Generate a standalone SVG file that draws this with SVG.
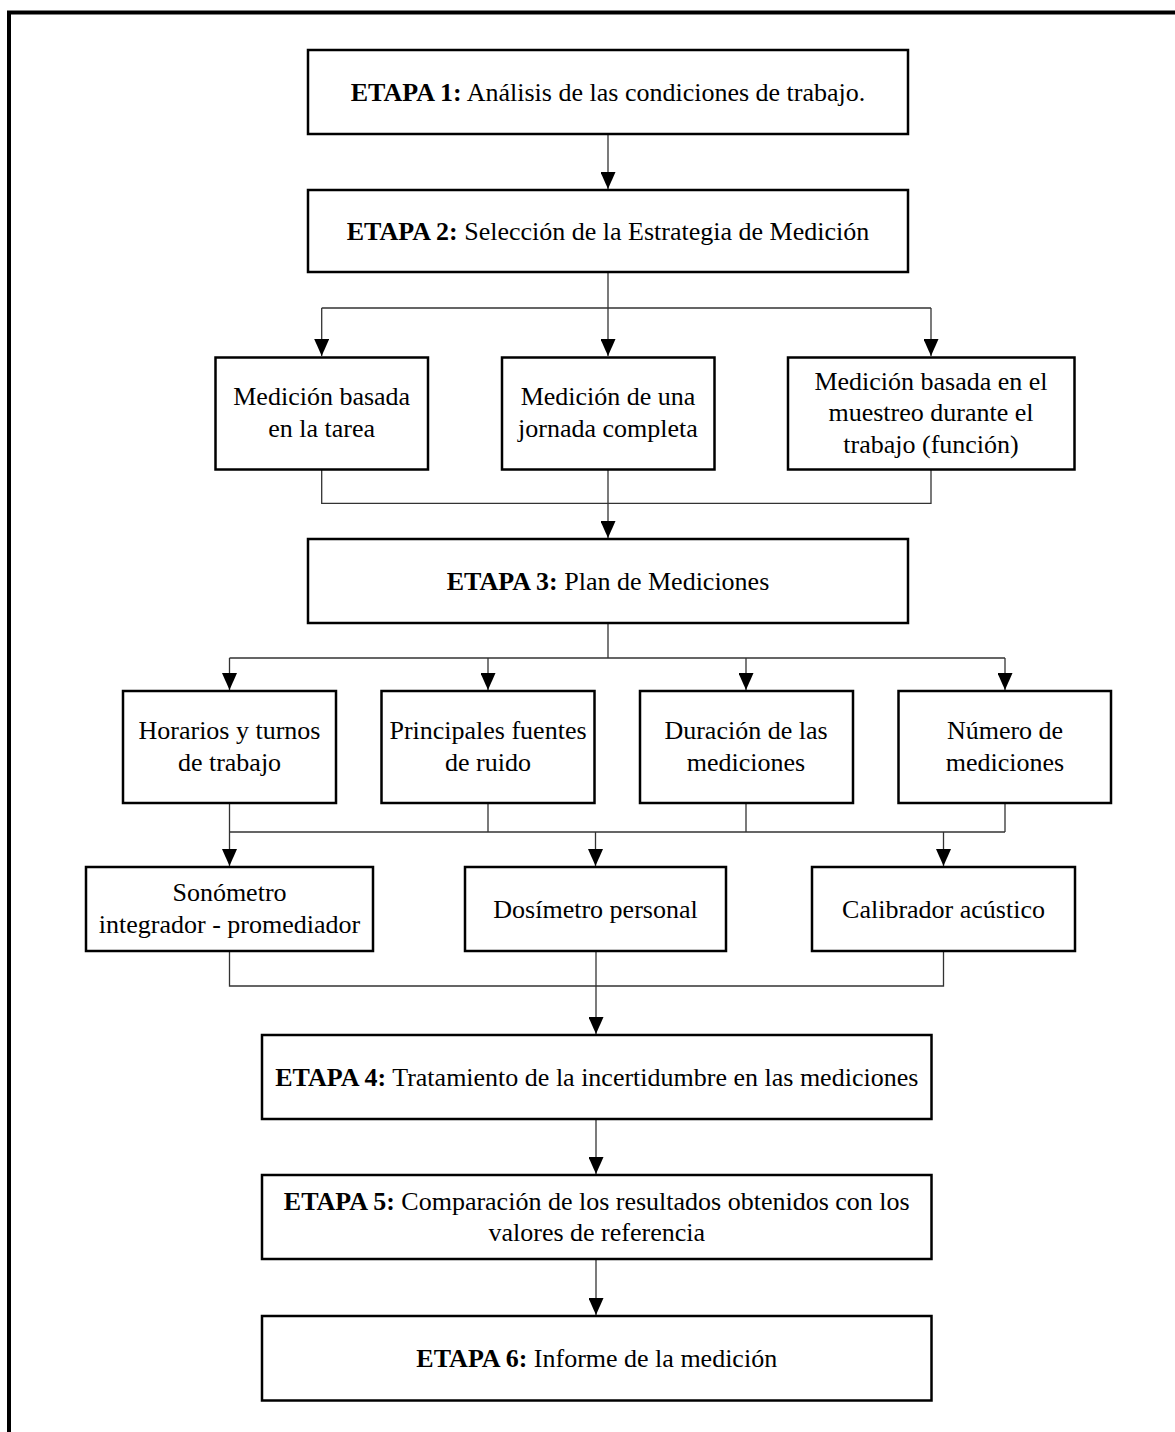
<svg xmlns="http://www.w3.org/2000/svg" width="1175" height="1432" viewBox="0 0 1175 1432">
<style>
.box{fill:#fff;stroke:#000;stroke-width:2.5}
.t{font-family:"Liberation Serif","Times New Roman",serif;font-size:26px;fill:#000;text-anchor:middle}
.b{font-weight:bold}
.c{fill:none;stroke:#333;stroke-width:1.3}
.a{marker-end:url(#ah)}
</style>
<defs>
<marker id="ah" markerUnits="userSpaceOnUse" viewBox="0 0 17 15" markerWidth="17" markerHeight="15" refX="17" refY="7.5" orient="auto">
<path d="M0,0 L17,7.5 L0,15 z" fill="#000"/>
</marker>
</defs>
<rect width="1175" height="1432" fill="#fff"/>
<path d="M9 1432 V12.5 H1175" fill="none" stroke="#000" stroke-width="4"/>
<g id="connectors">
<path class="c a" d="M608 135 V189"/>
<path class="c" d="M608 273 V308 M321.7 308 H931"/>
<path class="c a" d="M321.7 308 V356"/>
<path class="c a" d="M608 308 V356"/>
<path class="c a" d="M931 308 V356"/>
<path class="c" d="M321.7 470 V503.3 H931 V470"/>
<path class="c a" d="M608 470 V538"/>
<path class="c" d="M608 624 V658 M229.5 658 H1005"/>
<path class="c a" d="M229.5 658 V690"/>
<path class="c a" d="M488 658 V690"/>
<path class="c a" d="M746 658 V690"/>
<path class="c a" d="M1005 658 V690"/>
<path class="c" d="M229.5 832 H1005 M488 804 V832 M746 804 V832 M1005 804 V832"/>
<path class="c a" d="M229.5 804 V866"/>
<path class="c a" d="M595.5 832 V866"/>
<path class="c a" d="M943.5 832 V866"/>
<path class="c" d="M229.5 952 V986 H943.5 V952"/>
<path class="c a" d="M596 952 V1034"/>
<path class="c a" d="M596 1120 V1174"/>
<path class="c a" d="M596 1260 V1315"/>
</g>
<g id="etapa1"><rect class="box" x="308" y="50" width="600" height="84"/><text class="t" x="608" y="101"><tspan class="b">ETAPA 1:</tspan> Análisis de las condiciones de trabajo.</text></g>
<g id="etapa2"><rect class="box" x="308" y="190" width="600" height="82"/><text class="t" x="608" y="240"><tspan class="b">ETAPA 2:</tspan> Selección de la Estrategia de Medición</text></g>
<g id="tarea"><rect class="box" x="215.5" y="357.5" width="212.5" height="112"/><text class="t" x="321.7" y="405">Medición basada</text><text class="t" x="321.7" y="437">en la tarea</text></g>
<g id="jornada"><rect class="box" x="502" y="357.5" width="212.5" height="112"/><text class="t" x="608" y="405">Medición de una</text><text class="t" x="608" y="437">jornada completa</text></g>
<g id="muestreo"><rect class="box" x="788" y="357.5" width="286.5" height="112"/><text class="t" x="931" y="390">Medición basada en el</text><text class="t" x="931" y="421">muestreo durante el</text><text class="t" x="931" y="453">trabajo (función)</text></g>
<g id="etapa3"><rect class="box" x="308" y="539" width="600" height="84"/><text class="t" x="608" y="590"><tspan class="b">ETAPA 3:</tspan> Plan de Mediciones</text></g>
<g id="horarios"><rect class="box" x="123" y="691" width="213" height="112"/><text class="t" x="229.5" y="739">Horarios y turnos</text><text class="t" x="229.5" y="771">de trabajo</text></g>
<g id="fuentes"><rect class="box" x="381.5" y="691" width="213" height="112"/><text class="t" x="488" y="739">Principales fuentes</text><text class="t" x="488" y="771">de ruido</text></g>
<g id="duracion"><rect class="box" x="640" y="691" width="213" height="112"/><text class="t" x="746" y="739">Duración de las</text><text class="t" x="746" y="771">mediciones</text></g>
<g id="numero"><rect class="box" x="898.5" y="691" width="212.5" height="112"/><text class="t" x="1005" y="739">Número de</text><text class="t" x="1005" y="771">mediciones</text></g>
<g id="sonometro"><rect class="box" x="86" y="867" width="287" height="84"/><text class="t" x="229.5" y="901">Sonómetro</text><text class="t" x="229.5" y="933">integrador - promediador</text></g>
<g id="dosimetro"><rect class="box" x="465" y="867" width="261" height="84"/><text class="t" x="595.5" y="918">Dosímetro personal</text></g>
<g id="calibrador"><rect class="box" x="812" y="867" width="263" height="84"/><text class="t" x="943.5" y="918">Calibrador acústico</text></g>
<g id="etapa4"><rect class="box" x="262" y="1035" width="669.5" height="84"/><text class="t" x="596.75" y="1086"><tspan class="b">ETAPA 4:</tspan> Tratamiento de la incertidumbre en las mediciones</text></g>
<g id="etapa5"><rect class="box" x="262" y="1175" width="669.5" height="84"/><text class="t" x="596.75" y="1210"><tspan class="b">ETAPA 5:</tspan> Comparación de los resultados obtenidos con los</text><text class="t" x="596.75" y="1241">valores de referencia</text></g>
<g id="etapa6"><rect class="box" x="262" y="1316" width="669.5" height="84.5"/><text class="t" x="596.75" y="1367"><tspan class="b">ETAPA 6:</tspan> Informe de la medición</text></g>
</svg>
